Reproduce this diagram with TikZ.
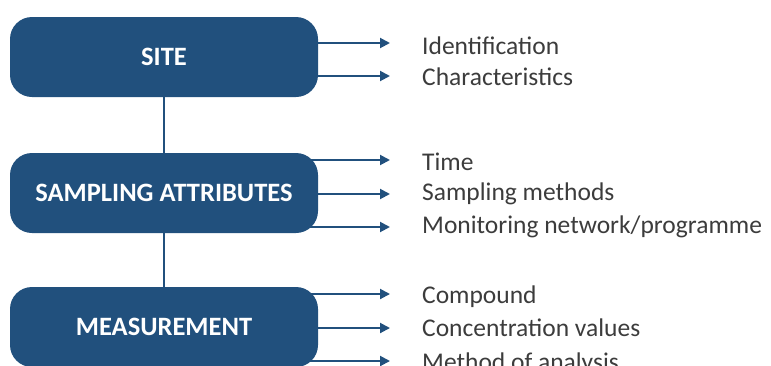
\documentclass[tikz,border=0pt]{standalone}
\usepackage{fontspec}
\setmainfont{Carlito}
\usetikzlibrary{arrows.meta,backgrounds}
\definecolor{boxblue}{RGB}{33,80,125}
\definecolor{textgrey}{RGB}{60,60,60}
\tikzset{
	groupbox/.style={fill=boxblue, rounded corners=22pt, minimum width=308pt, minimum height=80pt, inner sep=0pt, text=white, font=\fontsize{26.5}{30}\selectfont\bfseries},	% the three blue boxes
	item/.style={anchor=west, inner sep=0pt, text=textgrey, font=\fontsize{25.5}{30}\selectfont},
	feed/.style={draw=boxblue, line width=2pt, -{Triangle[length=10pt,width=10pt]}},
	link/.style={draw=boxblue, line width=2pt}
}

\begin{document}
\begin{tikzpicture}[x=1pt,y=-1pt]
	\useasboundingbox (0,0) rectangle (771,365);
	\clip (0,0) rectangle (771,365);
	% boxes
	\node[groupbox] (site) at (164,57) {SITE};
	\node[groupbox] (sampling) at (164,193) {SAMPLING ATTRIBUTES};
	\node[groupbox] (measure) at (164,327) {MEASUREMENT};
	\draw[link] (site) -- (sampling);
	\draw[link] (sampling) -- (measure);
	% items
	\node[item] (ident) at (422,46) {Identification};
	\node[item] (charac) at (422,77) {Characteristics};
	\node[item] (time) at (422,162) {Time};
	\node[item] (method) at (422,194) {Sampling methods};
	\node[item] (network) at (422,227) {Monitoring network/programme};
	\node[item] (compound) at (422,297) {Compound};
	\node[item] (conc) at (422,328) {Concentration values};
	\node[item] (analysis) at (422,364) {Method of analysis};
	% arrow tips
	\coordinate (t1) at (390,43);
	\coordinate (t2) at (390,76);
	\coordinate (t3) at (390,160);
	\coordinate (t4) at (390,194);
	\coordinate (t5) at (390,227);
	\coordinate (t6) at (390,294);
	\coordinate (t7) at (390,328);
	\coordinate (t8) at (390,361);
	\begin{scope}[on background layer]
		\foreach \b/\t in {site/t1,site/t2,sampling/t3,sampling/t4,sampling/t5,measure/t6,measure/t7,measure/t8}
			\draw[feed] (\b.center |- \t) -- (\t);
	\end{scope}
\end{tikzpicture}
\end{document}
